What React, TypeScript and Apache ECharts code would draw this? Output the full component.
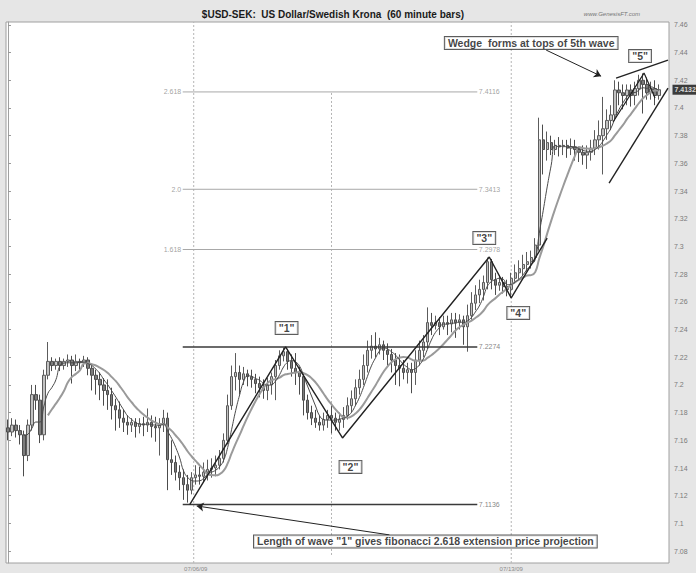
import React, { useEffect, useRef } from 'react';
import * as echarts from 'echarts';

const W = 696;
const H = 573;
const FONT = 'Liberation Sans, Arial, sans-serif';

// ---- price bars (60 minute) ----
const opens = [
  7.169, 7.166, 7.171, 7.167, 7.164, 7.149, 7.171, 7.193, 7.189, 7.164,
  7.207, 7.217, 7.214, 7.217, 7.214, 7.217, 7.218, 7.214, 7.217, 7.216,
  7.218, 7.212, 7.207, 7.204, 7.200, 7.196, 7.193, 7.185, 7.182, 7.176,
  7.173, 7.171, 7.173, 7.170, 7.172, 7.171, 7.173, 7.170, 7.169, 7.171,
  7.176, 7.146, 7.144, 7.137, 7.133, 7.128, 7.124, 7.133, 7.135, 7.134,
  7.137, 7.139, 7.140, 7.142, 7.147, 7.160, 7.185, 7.206, 7.209, 7.204,
  7.208, 7.206, 7.204, 7.201, 7.198, 7.196, 7.200, 7.206, 7.214, 7.221,
  7.224, 7.217, 7.212, 7.209, 7.206, 7.189, 7.180, 7.176, 7.173, 7.171,
  7.175, 7.178, 7.176, 7.173, 7.175, 7.178, 7.185, 7.190, 7.198, 7.204,
  7.214, 7.225, 7.228, 7.226, 7.229, 7.225, 7.222, 7.218, 7.214, 7.212,
  7.209, 7.211, 7.209, 7.218, 7.225, 7.231, 7.245, 7.243, 7.245, 7.242,
  7.245, 7.244, 7.247, 7.245, 7.247, 7.242, 7.250, 7.259, 7.265, 7.269,
  7.274, 7.289, 7.276, 7.272, 7.274, 7.271, 7.269, 7.277, 7.281, 7.284,
  7.287, 7.289, 7.292, 7.301, 7.377, 7.370, 7.375, 7.370, 7.373, 7.372,
  7.373, 7.371, 7.372, 7.370, 7.368, 7.366, 7.368, 7.371, 7.377, 7.380,
  7.385, 7.391, 7.395, 7.413, 7.411, 7.409, 7.413, 7.409, 7.414, 7.420,
  7.417, 7.411, 7.414, 7.409,
];
const closes = [
  7.166, 7.171, 7.167, 7.164, 7.149, 7.171, 7.193, 7.189, 7.164, 7.207,
  7.217, 7.214, 7.217, 7.214, 7.217, 7.218, 7.214, 7.217, 7.216, 7.218,
  7.212, 7.207, 7.204, 7.200, 7.196, 7.193, 7.185, 7.182, 7.176, 7.173,
  7.171, 7.173, 7.170, 7.172, 7.171, 7.173, 7.170, 7.169, 7.171, 7.176,
  7.146, 7.144, 7.137, 7.133, 7.128, 7.124, 7.133, 7.135, 7.134, 7.137,
  7.139, 7.140, 7.142, 7.147, 7.160, 7.185, 7.206, 7.209, 7.204, 7.208,
  7.206, 7.204, 7.201, 7.198, 7.196, 7.200, 7.206, 7.214, 7.221, 7.224,
  7.217, 7.212, 7.209, 7.206, 7.189, 7.180, 7.176, 7.173, 7.171, 7.175,
  7.178, 7.176, 7.173, 7.175, 7.178, 7.185, 7.190, 7.198, 7.204, 7.214,
  7.225, 7.228, 7.226, 7.229, 7.225, 7.222, 7.218, 7.214, 7.212, 7.209,
  7.211, 7.209, 7.218, 7.225, 7.231, 7.245, 7.243, 7.245, 7.242, 7.245,
  7.244, 7.247, 7.245, 7.247, 7.242, 7.250, 7.259, 7.265, 7.269, 7.274,
  7.289, 7.276, 7.272, 7.274, 7.271, 7.269, 7.277, 7.281, 7.284, 7.287,
  7.289, 7.292, 7.301, 7.377, 7.370, 7.375, 7.370, 7.373, 7.372, 7.373,
  7.371, 7.372, 7.370, 7.368, 7.366, 7.368, 7.371, 7.377, 7.380, 7.385,
  7.391, 7.395, 7.413, 7.411, 7.409, 7.413, 7.409, 7.414, 7.420, 7.417,
  7.411, 7.414, 7.409, 7.4132,
];
const lows = [
  7.160, 7.163, 7.162, 7.157, 7.134, 7.145, 7.167, 7.182, 7.158, 7.160,
  7.204, 7.210, 7.211, 7.210, 7.211, 7.213, 7.201, 7.210, 7.211, 7.213,
  7.207, 7.196, 7.193, 7.189, 7.185, 7.182, 7.175, 7.167, 7.169, 7.166,
  7.164, 7.166, 7.162, 7.165, 7.163, 7.166, 7.162, 7.159, 7.149, 7.166,
  7.124, 7.135, 7.131, 7.124, 7.117, 7.115, 7.121, 7.128, 7.128, 7.130,
  7.131, 7.133, 7.134, 7.139, 7.144, 7.157, 7.182, 7.196, 7.193, 7.200,
  7.199, 7.198, 7.194, 7.191, 7.190, 7.189, 7.193, 7.189, 7.211, 7.217,
  7.211, 7.206, 7.200, 7.193, 7.178, 7.175, 7.171, 7.169, 7.167, 7.167,
  7.169, 7.165, 7.167, 7.167, 7.169, 7.175, 7.180, 7.185, 7.193, 7.200,
  7.209, 7.219, 7.220, 7.222, 7.218, 7.214, 7.209, 7.200, 7.199, 7.204,
  7.201, 7.194, 7.200, 7.214, 7.220, 7.226, 7.236, 7.240, 7.236, 7.240,
  7.236, 7.238, 7.234, 7.240, 7.229, 7.224, 7.247, 7.254, 7.259, 7.261,
  7.269, 7.269, 7.265, 7.268, 7.266, 7.264, 7.263, 7.273, 7.276, 7.279,
  7.282, 7.284, 7.289, 7.297, 7.352, 7.362, 7.366, 7.366, 7.365, 7.366,
  7.364, 7.366, 7.362, 7.361, 7.359, 7.356, 7.362, 7.366, 7.370, 7.352,
  7.377, 7.384, 7.391, 7.402, 7.399, 7.402, 7.401, 7.402, 7.409, 7.396,
  7.406, 7.406, 7.402, 7.406,
];
const highs = [
  7.175, 7.176, 7.175, 7.171, 7.167, 7.175, 7.200, 7.200, 7.193, 7.211,
  7.231, 7.220, 7.219, 7.220, 7.219, 7.222, 7.221, 7.222, 7.219, 7.221,
  7.220, 7.214, 7.211, 7.209, 7.205, 7.204, 7.198, 7.190, 7.188, 7.182,
  7.178, 7.176, 7.176, 7.176, 7.177, 7.183, 7.178, 7.177, 7.176, 7.182,
  7.180, 7.160, 7.149, 7.142, 7.139, 7.135, 7.137, 7.142, 7.141, 7.144,
  7.146, 7.147, 7.149, 7.153, 7.165, 7.193, 7.214, 7.223, 7.214, 7.213,
  7.211, 7.211, 7.208, 7.206, 7.204, 7.205, 7.209, 7.218, 7.225, 7.227,
  7.226, 7.222, 7.223, 7.213, 7.209, 7.193, 7.185, 7.182, 7.178, 7.180,
  7.182, 7.185, 7.180, 7.180, 7.184, 7.191, 7.196, 7.204, 7.211, 7.222,
  7.232, 7.236, 7.238, 7.234, 7.232, 7.230, 7.226, 7.223, 7.222, 7.218,
  7.216, 7.216, 7.225, 7.232, 7.236, 7.256, 7.252, 7.250, 7.249, 7.250,
  7.250, 7.252, 7.252, 7.251, 7.250, 7.258, 7.267, 7.272, 7.276, 7.279,
  7.292, 7.291, 7.281, 7.279, 7.278, 7.276, 7.281, 7.287, 7.290, 7.294,
  7.296, 7.297, 7.306, 7.393, 7.388, 7.383, 7.380, 7.377, 7.379, 7.377,
  7.377, 7.378, 7.377, 7.372, 7.373, 7.373, 7.377, 7.384, 7.391, 7.408,
  7.399, 7.402, 7.420, 7.419, 7.417, 7.417, 7.417, 7.419, 7.424, 7.425,
  7.422, 7.419, 7.420, 7.417,
];

// ---- axis ----
const SLOTS = 166;
const yMin = 7.0714;
const yMax = 7.4621;
const yTicks = [7.08, 7.1, 7.12, 7.14, 7.16, 7.18, 7.2, 7.22, 7.24, 7.26, 7.28, 7.3, 7.32, 7.34, 7.36, 7.38, 7.4, 7.42, 7.44, 7.46];
const dateIndex = [47, 126];
const dateText = ['07/06/09', '07/13/09'];
const lastPrice = 7.4132;

// ---- fibonacci projection ----
const fibRatios = ['2.618', '2.0', '1.618'];
const fibValues = [7.4116, 7.3413, 7.2978];
const waveLevels = [7.2274, 7.1136];
const levelStart = 43.75;
const levelEnd = 117.5;

// ---- elliott wave lines (bar index, price) ----
const waveX = [45.5, 69.5, 83.75, 120.5, 126, 135];
const waveY = [7.1136, 7.2274, 7.1617, 7.2924, 7.2628, 7.306];
const wedgeUpperX = [152.25, 165.25];
const wedgeUpperY = [7.4216, 7.4346];
const wedgeLowerX = [150.5, 165.25];
const wedgeLowerY = [7.3458, 7.4144];
const subWaveX = [151.5, 159.25, 162];
const subWaveY = [7.3899, 7.4252, 7.4072];

// ---- labels ----
const waveLabels = ['"1"', '"2"', '"3"', '"4"', '"5"'];
const waveLabelX = [69.75, 85.75, 119.25, 127.75, 158.25];
const waveLabelY = [7.2411, 7.1408, 7.3061, 7.252, 7.4375];
const notes = ['Wedge  forms at tops of 5th wave', 'Length of wave "1" gives fibonacci 2.618 extension price projection'];
const noteX = [131, 104.5];
const noteY = [7.4469, 7.087];
const arrowFrom = [[134.75, 7.4418], [95.5, 7.0917]];
const arrowTo = [[148.5, 7.423], [47.25, 7.1126]];

// ---- session separators ----
const sessionX = [46.5, 81, 126];
const sessionTop = [yMax, 7.4116, yMax];
const sessionBottom = [yMin, 7.0772, yMin];

const maFast = 5;
const maSlow = 11;

function sma(values: number[], p: number) {
  return values.map((_, i) => {
    if (i < p - 1) return '-';
    let s = 0;
    for (let k = i - p + 1; k <= i; k++) s += values[k];
    return +(s / p).toFixed(4);
  });
}

function buildOption() {
  const n = Math.min(opens.length, closes.length, lows.length, highs.length);
  const candles = [];
  for (let i = 0; i < n; i++) candles.push([opens[i], closes[i], lows[i], highs[i]]);
  const categories = Array.from({ length: SLOTS }, (_, i) => {
    const k = dateIndex.indexOf(i);
    return k >= 0 ? dateText[k] : '';
  });
  const cl = closes.slice(0, n);

  const lineOverlay = (data: any[], color: string, width: number, type: any = 'solid', z = 5) => ({
    type: 'line',
    xAxisIndex: 1,
    yAxisIndex: 0,
    data,
    symbol: 'none',
    silent: true,
    animation: false,
    z,
    lineStyle: { color, width, type },
  });

  const series: any[] = [
    {
      type: 'candlestick',
      xAxisIndex: 0,
      yAxisIndex: 0,
      data: candles,
      barWidth: 2.8,
      z: 2,
      itemStyle: {
        color: '#c2c2c2',
        color0: '#7c7c7c',
        borderColor: '#5c5c5c',
        borderColor0: '#4c4c4c',
        borderWidth: 1,
      },
    },
    {
      type: 'line',
      xAxisIndex: 0,
      data: sma(cl, maSlow),
      symbol: 'none',
      smooth: true,
      z: 3,
      lineStyle: { color: '#9a9a9a', width: 2 },
    },
    {
      type: 'line',
      xAxisIndex: 0,
      data: sma(cl, maFast),
      symbol: 'none',
      smooth: true,
      z: 3,
      lineStyle: { color: '#4a4a4a', width: 1 },
    },
  ];

  sessionX.forEach((x, k) => {
    series.push(lineOverlay([[x, sessionBottom[k]], [x, sessionTop[k]]], '#b5b5b5', 1, [2, 2], 1));
  });
  fibValues.forEach((v) => {
    series.push(lineOverlay([[levelStart, v], [levelEnd, v]], '#a8a8a8', 1, 'solid', 4));
  });
  waveLevels.forEach((v) => {
    series.push(lineOverlay([[levelStart, v], [levelEnd, v]], '#3a3a3a', 1.5, 'solid', 4));
  });
  series.push(lineOverlay(waveX.map((x, i) => [x, waveY[i]]), '#222', 1.4, 'solid', 6));
  series.push(lineOverlay(wedgeUpperX.map((x, i) => [x, wedgeUpperY[i]]), '#222', 1.4, 'solid', 6));
  series.push(lineOverlay(wedgeLowerX.map((x, i) => [x, wedgeLowerY[i]]), '#222', 1.4, 'solid', 6));
  series.push(lineOverlay(subWaveX.map((x, i) => [x, subWaveY[i]]), '#222', 1.2, 'solid', 6));

  const small = { fontFamily: FONT, fontSize: 7, color: '#8a8a8a' };
  const boxed = {
    show: true,
    position: 'inside',
    fontFamily: FONT,
    fontWeight: 'bold',
    fontSize: 10.5,
    color: '#111',
    backgroundColor: '#fff',
    borderColor: '#333',
    borderWidth: 1,
    padding: [1, 3, 0, 3],
  };
  const annotations: any[] = [];
  fibValues.forEach((v, k) => {
    annotations.push({ value: [levelStart, v], label: { show: true, position: 'left', distance: 1, formatter: fibRatios[k], ...small } });
    annotations.push({ value: [levelEnd, v], label: { show: true, position: 'right', distance: 1, formatter: v.toFixed(4), ...small } });
  });
  waveLevels.forEach((v) => {
    annotations.push({ value: [levelEnd, v], label: { show: true, position: 'right', distance: 1, formatter: v.toFixed(4), ...small, color: '#666' } });
  });
  waveLabels.forEach((t, k) => {
    annotations.push({ value: [waveLabelX[k], waveLabelY[k]], label: { ...boxed, formatter: t } });
  });
  notes.forEach((t, k) => {
    annotations.push({ value: [noteX[k], noteY[k]], label: { ...boxed, formatter: t } });
  });
  annotations.push({
    value: [SLOTS - 0.5, lastPrice],
    label: {
      show: true,
      position: 'right',
      distance: 3,
      formatter: lastPrice.toFixed(4),
      fontFamily: FONT,
      fontSize: 7,
      fontWeight: 'bold',
      color: '#fff',
      backgroundColor: '#111',
      padding: [2, 2, 1, 2],
    },
  });

  series.push({
    type: 'scatter',
    xAxisIndex: 1,
    yAxisIndex: 0,
    data: annotations,
    symbolSize: 1,
    itemStyle: { color: 'transparent' },
    silent: true,
    clip: false,
    z: 10,
    markLine: {
      silent: true,
      symbol: ['none', 'arrow'],
      symbolSize: 7,
      label: { show: false },
      lineStyle: { color: '#222', width: 1, type: 'solid' },
      data: arrowFrom.map((f, k) => [{ coord: f }, { coord: arrowTo[k] }]),
    },
  });

  return {
    animation: false,
    backgroundColor: '#e6e6e6',
    textStyle: { fontFamily: FONT },
    grid: {
      left: 6,
      right: 27,
      top: 22,
      bottom: 10,
      show: true,
      backgroundColor: '#ffffff',
      borderColor: '#a0a0a0',
      borderWidth: 1,
    },
    graphic: [
      {
        type: 'text',
        x: 333,
        y: 14,
        style: {
          text: '$USD-SEK:  US Dollar/Swedish Krona  (60 minute bars)',
          fontFamily: FONT,
          fontSize: 10,
          fontWeight: 'bold',
          fill: '#1a1a1a',
          textAlign: 'center',
          textVerticalAlign: 'middle',
        },
      },
      {
        type: 'text',
        x: 640,
        y: 14,
        style: {
          text: 'www.GenesisFT.com',
          fontFamily: FONT,
          fontSize: 6,
          fontStyle: 'italic',
          fill: '#777',
          textAlign: 'right',
          textVerticalAlign: 'middle',
        },
      },
    ],
    xAxis: [
      {
        type: 'category',
        data: categories,
        boundaryGap: true,
        axisLine: { show: false },
        axisTick: { show: false },
        splitLine: { show: false },
        axisLabel: { show: true, interval: 0, fontSize: 6, color: '#8a8a8a', margin: 3 },
      },
      {
        type: 'value',
        min: -0.5,
        max: SLOTS - 0.5,
        show: false,
        splitLine: { show: false },
      },
    ],
    yAxis: [
      {
        type: 'value',
        position: 'right',
        min: yMin,
        max: yMax,
        scale: true,
        splitLine: { show: false },
        axisLine: { show: true, lineStyle: { color: '#a0a0a0' } },
        axisTick: { show: true, length: 3, customValues: yTicks, lineStyle: { color: '#999' } },
        axisLabel: {
          customValues: yTicks,
          formatter: (v: number) => String(parseFloat(v.toFixed(2))),
          fontSize: 7,
          color: '#7a7a7a',
          margin: 5,
        },
      },
    ],
    series,
  };
}

export default function App() {
  const ref = useRef<HTMLDivElement>(null);
  useEffect(() => {
    document.body.style.margin = '0';
    const chart = echarts.init(ref.current as HTMLDivElement, null, { renderer: 'svg', width: W, height: H });
    chart.setOption(buildOption() as any);
    return () => chart.dispose();
  }, []);
  return <div ref={ref} style={{ width: W, height: H, position: 'fixed', left: 0, top: 0 }} />;
}
